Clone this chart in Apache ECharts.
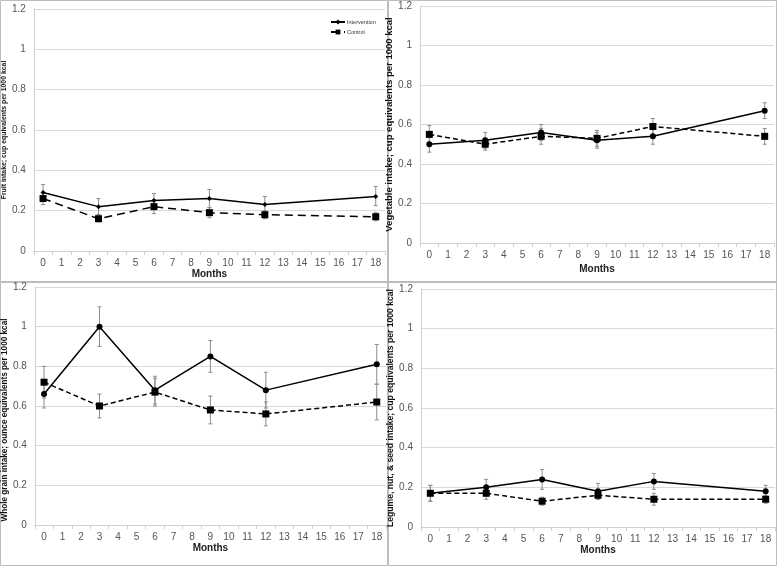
<!DOCTYPE html>
<html>
<head>
<meta charset="utf-8">
<script src="https://cdn.jsdelivr.net/npm/echarts@6/dist/echarts.min.js"></script>
<style>html,body{margin:0;padding:0;background:#fff}#c{width:778px;height:566px}</style>
</head>
<body>
<div id="c"></div>
<script>
const monthCategories = ['0','1','2','3','4','5','6','7','8','9','10','11','12','13','14','15','16','17','18'];
const months = [0, 3, 6, 9, 12, 18];
const yTicks = [0, 0.2, 0.4, 0.6, 0.8, 1, 1.2];

const fruitInt = [0.29, 0.22, 0.25, 0.26, 0.23, 0.27];
const fruitIntLow = [0.25, 0.18, 0.215, 0.215, 0.19, 0.225];
const fruitIntHigh = [0.33, 0.26, 0.285, 0.305, 0.27, 0.32];
const fruitCtl = [0.26, 0.16, 0.22, 0.19, 0.18, 0.17];
const fruitCtlLow = [0.23, 0.145, 0.185, 0.165, 0.16, 0.15];
const fruitCtlHigh = [0.29, 0.18, 0.255, 0.215, 0.20, 0.19];

const vegInt = [0.50, 0.52, 0.56, 0.52, 0.54, 0.67];
const vegIntLow = [0.46, 0.48, 0.52, 0.48, 0.50, 0.63];
const vegIntHigh = [0.54, 0.56, 0.60, 0.56, 0.58, 0.71];
const vegCtl = [0.55, 0.50, 0.54, 0.53, 0.59, 0.54];
const vegCtlLow = [0.51, 0.47, 0.50, 0.49, 0.55, 0.50];
const vegCtlHigh = [0.595, 0.53, 0.58, 0.57, 0.63, 0.58];

const grainInt = [0.66, 1.00, 0.68, 0.85, 0.68, 0.81];
const grainIntLow = [0.59, 0.90, 0.61, 0.77, 0.59, 0.71];
const grainIntHigh = [0.73, 1.10, 0.75, 0.93, 0.77, 0.91];
const grainCtl = [0.72, 0.60, 0.67, 0.58, 0.56, 0.62];
const grainCtlLow = [0.64, 0.54, 0.60, 0.51, 0.50, 0.53];
const grainCtlHigh = [0.80, 0.66, 0.74, 0.65, 0.62, 0.71];

const legInt = [0.17, 0.20, 0.24, 0.18, 0.23, 0.18];
const legIntLow = [0.13, 0.16, 0.19, 0.14, 0.19, 0.15];
const legIntHigh = [0.21, 0.24, 0.29, 0.22, 0.27, 0.21];
const legCtl = [0.17, 0.17, 0.13, 0.16, 0.14, 0.14];
const legCtlLow = [0.13, 0.14, 0.11, 0.14, 0.11, 0.12];
const legCtlHigh = [0.21, 0.20, 0.15, 0.18, 0.17, 0.16];

const yNames = [
  'Fruit intake; cup equivalents per 1000 kcal',
  'Vegetable intake; cup equivalents per 1000 kcal',
  'Whole grain intake; ounce equivalents per 1000 kcal',
  'Legume, nut, & seed intake; cup equivalents per 1000 kcal'
];

const panels = [
  {int: fruitInt, il: fruitIntLow, ih: fruitIntHigh, ctl: fruitCtl, cl: fruitCtlLow, ch: fruitCtlHigh},
  {int: vegInt, il: vegIntLow, ih: vegIntHigh, ctl: vegCtl, cl: vegCtlLow, ch: vegCtlHigh},
  {int: grainInt, il: grainIntLow, ih: grainIntHigh, ctl: grainCtl, cl: grainCtlLow, ch: grainCtlHigh},
  {int: legInt, il: legIntLow, ih: legIntHigh, ctl: legCtl, cl: legCtlLow, ch: legCtlHigh}
];

const grids = [
  {left: 32, top: 9, width: 353, height: 242},
  {left: 420, top: 6, width: 354, height: 237},
  {left: 32, top: 287, width: 354, height: 238},
  {left: 421, top: 289, width: 354, height: 238}
];
const yNameSize = [6.9, 9.5, 8.2, 8.6];
const yNamePad = [[0,0,0,0],[0,0,0,0],[0,28,0,0],[0,0,0,0]];
const yNameGap = [22, 21, 21, 20];
const xNameGap = [18, 21, 18, 18];

const font = 'Liberation Sans, Arial, sans-serif';
const xAxes = [], yAxes = [], series = [];

function errSeries(i, lows, highs) {
  return {
    type: 'custom', xAxisIndex: i, yAxisIndex: i, z: 1, silent: true,
    data: months.map((m, k) => [m, lows[k], highs[k]]),
    renderItem: function (params, api) {
      const lo = api.coord([api.value(0), api.value(1)]);
      const hi = api.coord([api.value(0), api.value(2)]);
      const w = 2;
      const st = {stroke: '#8c8c8c', lineWidth: 1};
      return {type: 'group', children: [
        {type: 'line', shape: {x1: lo[0], y1: lo[1], x2: hi[0], y2: hi[1]}, style: st},
        {type: 'line', shape: {x1: lo[0]-w, y1: lo[1], x2: lo[0]+w, y2: lo[1]}, style: st},
        {type: 'line', shape: {x1: hi[0]-w, y1: hi[1], x2: hi[0]+w, y2: hi[1]}, style: st}
      ]};
    }
  };
}

panels.forEach((p, i) => {
  xAxes.push({
    gridIndex: i, type: 'category', data: monthCategories, boundaryGap: true,
    name: 'Months', nameLocation: 'middle', nameGap: xNameGap[i],
    nameTextStyle: {fontFamily: font, fontSize: 10, fontWeight: 'bold', color: '#222'},
    axisLine: {lineStyle: {color: '#d0d0d0'}},
    axisTick: {show: true, length: 4, lineStyle: {color: '#d0d0d0'}},
    axisLabel: {fontFamily: font, fontSize: 10, color: '#555', margin: 7, interval: 0},
    splitLine: {show: false}
  });
  yAxes.push({
    gridIndex: i, type: 'value', min: 0, max: 1.2, interval: 0.2,
    name: yNames[i], nameLocation: 'middle', nameGap: yNameGap[i],
    nameTextStyle: {fontFamily: font, fontSize: yNameSize[i], fontWeight: 'bold', color: '#111', padding: yNamePad[i]},
    axisLine: {show: true, lineStyle: {color: '#d0d0d0'}},
    axisTick: {show: false},
    axisLabel: {fontFamily: font, fontSize: 10, color: '#555', margin: 8,
      formatter: v => String(Math.round(v * 10) / 10)},
    splitLine: {lineStyle: {color: '#d9d9d9', width: 1}}
  });
  series.push(errSeries(i, p.il, p.ih));
  series.push(errSeries(i, p.cl, p.ch));
  series.push({
    name: 'Intervention', type: 'line', xAxisIndex: i, yAxisIndex: i, z: 3,
    data: months.map((m, k) => [m, p.int[k]]),
    symbol: i === 0 ? 'diamond' : 'circle', symbolSize: i === 0 ? 5 : 6,
    lineStyle: {color: '#000', width: 1.5}, itemStyle: {color: '#000'}
  });
  series.push({
    name: 'Control', type: 'line', xAxisIndex: i, yAxisIndex: i, z: 3,
    data: months.map((m, k) => [m, p.ctl[k]]),
    symbol: 'rect', symbolSize: 7,
    lineStyle: {color: '#000', width: 1.5, type: i === 0 ? [8, 5] : [5, 3]},
    itemStyle: {color: '#000'}
  });
});

const borderStyle = {fill: 'none', stroke: '#bdbdbd', lineWidth: 1};
const chart = echarts.init(document.getElementById('c'), null, {renderer: 'canvas'});
chart.setOption({
  animation: false,
  backgroundColor: '#fff',
  grid: grids,
  xAxis: xAxes,
  yAxis: yAxes,
  series: series,
  legend: {
    left: 330, top: 19, orient: 'vertical', itemGap: 4, itemWidth: 14, itemHeight: 6,
    padding: 0,
    data: ['Intervention', 'Control'],
    textStyle: {fontFamily: font, fontSize: 5.5, color: '#333', padding: [0, 0, 0, -3]}
  },
  graphic: [
    {type: 'rect', shape: {x: 0.5, y: 0.5, width: 387, height: 282}, style: borderStyle, silent: true},
    {type: 'rect', shape: {x: 388.5, y: 0.5, width: 388, height: 282}, style: borderStyle, silent: true},
    {type: 'rect', shape: {x: 0.5, y: 281.5, width: 387, height: 284}, style: borderStyle, silent: true},
    {type: 'rect', shape: {x: 388.5, y: 281.5, width: 388, height: 284}, style: borderStyle, silent: true}
  ]
});
</script>
</body>
</html>
